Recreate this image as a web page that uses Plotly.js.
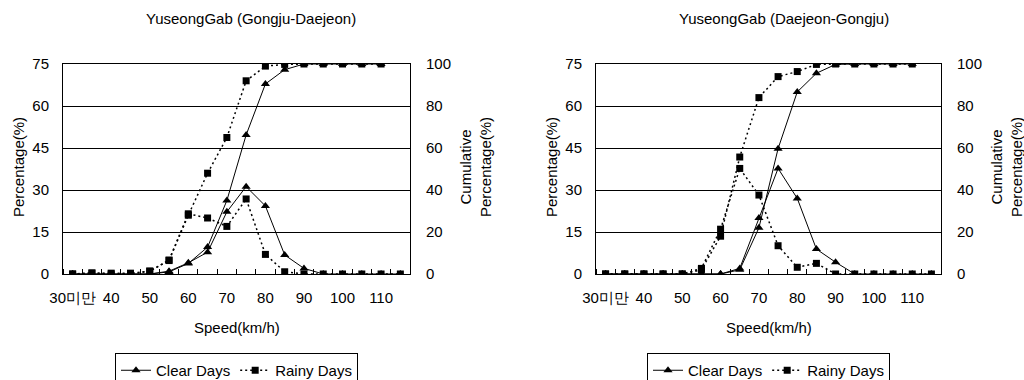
<!DOCTYPE html>
<html>
<head>
<meta charset="utf-8">
<script src="https://cdn.plot.ly/plotly-3.0.1.min.js"></script>
<style>html,body{margin:0;padding:0;background:#fff;}#chart{width:1024px;height:380px;}</style>
</head>
<body>
<div id="chart"></div>
<script>
// ---- data ----
const speed = [30,35,40,45,50,55,60,65,70,75,80,85,90,95,100,105,110,115];
const speedCum = [30,35,40,45,50,55,60,65,70,75,80,85,90,95,100,105,110];
const tickVals = [30,40,50,60,70,80,90,100,110];
const tickText = ["30미만","40","50","60","70","80","90","100","110"];

const titleLeft = "YuseongGab (Gongju-Daejeon)";
const titleRight = "YuseongGab (Daejeon-Gongju)";

// Gongju-Daejeon
const gjClearPct = [0,0,0,0,0,1,4,7.8,22.2,31.2,24.3,6.8,2,0,0,0,0,0];
const gjClearCum = [0,0,0,0,0,1,5,12.8,35,66.2,90.5,97.3,100,100,100,100,100];
const gjRainyPct = [0,0.4,0,0,1,5,21.5,20,17,26.8,7,0.8,0,0,0,0,0,0];
const gjRainyCum = [0,0.4,0.4,0.4,1.4,6.4,28,48,65,92,99,99.8,100,100,100,100,100];

// Daejeon-Gongju
const djClearPct = [0,0,0,0,0,0,0,2,20,37.7,27,8.9,4.2,0,0,0,0,0];
const djClearCum = [0,0,0,0,0,0,0,2,22,59.7,86.7,95.6,99.8,100,100,100,100];
const djRainyPct = [0,0,0,0,0,2,16,37.7,28.2,10.1,2.4,3.8,0,0,0,0,0,0];
const djRainyCum = [0,0,0,0,0,2,18,55.7,84,94,96.4,99.8,100,100,100,100,100];

// ---- styling ----
const FONT = "Liberation Sans, Arial, sans-serif";
const FS = 15;
const W = 1024, H = 380;
const px = v => v / W;
const py = v => (H - v) / H;

const clearStyle = {mode:'lines+markers', line:{color:'#000', width:1}, marker:{symbol:'triangle-up', size:8, color:'#000'}};
const rainyStyle = {mode:'lines+markers', line:{color:'#000', width:1.5, dash:'2px,3px'}, marker:{symbol:'square', size:7, color:'#000'}};

function tr(x, y, style, xa, ya, name, show, legend) {
  return Object.assign({}, style, {x:x, y:y, xaxis:xa, yaxis:ya, name:name, showlegend:show, legend:legend, hoverinfo:'skip'});
}

const data = [
  tr(speed, gjClearPct, clearStyle, 'x', 'y', 'Clear Days', true, 'legend'),
  tr(speedCum, gjClearCum, clearStyle, 'x', 'y2', 'Clear Days', false, 'legend'),
  tr(speed, gjRainyPct, rainyStyle, 'x', 'y', 'Rainy Days', true, 'legend'),
  tr(speedCum, gjRainyCum, rainyStyle, 'x', 'y2', 'Rainy Days', false, 'legend'),
  tr(speed, djClearPct, clearStyle, 'x2', 'y3', 'Clear Days', true, 'legend2'),
  tr(speedCum, djClearCum, clearStyle, 'x2', 'y4', 'Clear Days', false, 'legend2'),
  tr(speed, djRainyPct, rainyStyle, 'x2', 'y3', 'Rainy Days', true, 'legend2'),
  tr(speedCum, djRainyCum, rainyStyle, 'x2', 'y4', 'Rainy Days', false, 'legend2')
];

const yDom = [py(274), py(64)];
function xAxis(dom, anchor) {
  return {domain:dom, anchor:anchor, range:[27.5,117.5], showline:true, linecolor:'#000', linewidth:1, mirror:true,
    showgrid:false, zeroline:false, tickmode:'array', tickvals:tickVals, ticktext:tickText, ticks:'',
    ticklabelstandoff:10, tickfont:{family:FONT, size:FS, color:'#000'},
    minor:{tick0:27.5, dtick:5, ticks:'inside', ticklen:5, tickcolor:'#000', tickwidth:1, showgrid:false},
    automargin:false, fixedrange:true};
}
function yLeft(anchor) {
  return {domain:yDom, anchor:anchor, range:[0,75], dtick:15, tick0:0, showline:true, linecolor:'#000', linewidth:1,
    showgrid:true, gridcolor:'#000', gridwidth:1, zeroline:false, ticks:'', ticklabelstandoff:10,
    tickfont:{family:FONT, size:FS, color:'#000'}, automargin:false, fixedrange:true};
}
function yRight(over, anchor) {
  return {overlaying:over, side:'right', anchor:anchor, range:[0,100], dtick:20, tick0:0, showline:true, linecolor:'#000', linewidth:1,
    showgrid:false, zeroline:false, ticks:'', ticklabelstandoff:12,
    tickfont:{family:FONT, size:FS, color:'#000'}, automargin:false, fixedrange:true};
}

const ann = (t, x, y, extra) => Object.assign({text:t, x:x, y:y, xref:'paper', yref:'paper', showarrow:false,
  xanchor:'center', yanchor:'middle', font:{family:FONT, size:FS, color:'#000'}}, extra || {});

const legendBase = {orientation:'h', yanchor:'top', xanchor:'center', y:py(353), bordercolor:'#000', borderwidth:1,
  bgcolor:'#fff', font:{family:FONT, size:FS, color:'#000'}, itemclick:false, itemdoubleclick:false};

const layout = {
  width:W, height:H, margin:{l:0, r:0, t:0, b:0, autoexpand:false},
  paper_bgcolor:'#fff', plot_bgcolor:'#fff', showlegend:true,
  font:{family:FONT, size:FS, color:'#000'},
  xaxis: xAxis([px(63), px(410)], 'y'),
  yaxis: yLeft('x'),
  yaxis2: yRight('y', 'x'),
  xaxis2: xAxis([px(596), px(941)], 'y3'),
  yaxis3: yLeft('x2'),
  yaxis4: yRight('y3', 'x2'),
  legend: Object.assign({}, legendBase, {x:px(236.5)}),
  legend2: Object.assign({}, legendBase, {x:px(768.5)}),
  annotations: [
    ann(titleLeft, px(251), py(18)),
    ann(titleRight, px(784), py(18)),
    ann("Speed(km/h)", px(236.5), py(327)),
    ann("Speed(km/h)", px(768.5), py(327)),
    ann("Percentage(%)", px(18), py(167), {textangle:-90}),
    ann("Percentage(%)", px(551), py(167), {textangle:-90}),
    ann("Cumulative<br>Percentage(%)", px(475), py(167), {textangle:-90}),
    ann("Cumulative<br>Percentage(%)", px(1006), py(167), {textangle:-90})
  ]
};

Plotly.newPlot('chart', data, layout, {staticPlot:true, displayModeBar:false});
</script>
</body>
</html>
